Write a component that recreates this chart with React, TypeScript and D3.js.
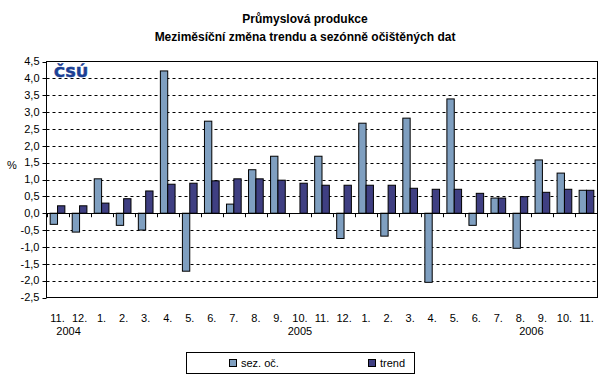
import React from "react";
import * as d3 from "d3";

const months = ["11.", "12.", "1.", "2.", "3.", "4.", "5.", "6.", "7.", "8.", "9.", "10.", "11.", "12.", "1.", "2.", "3.", "4.", "5.", "6.", "7.", "8.", "9.", "10.", "11."];
const sezOc = [-0.33, -0.56, 1.02, -0.36, -0.5, 4.22, -1.72, 2.73, 0.27, 1.29, 1.69, 0, 1.69, -0.75, 2.67, -0.68, 2.82, -2.05, 3.39, -0.36, 0.45, -1.04, 1.58, 1.19, 0.68];
const trend = [0.22, 0.22, 0.3, 0.43, 0.66, 0.86, 0.89, 0.96, 1.02, 1.02, 0.98, 0.89, 0.83, 0.83, 0.83, 0.83, 0.74, 0.71, 0.71, 0.59, 0.45, 0.49, 0.62, 0.71, 0.68];
const yearLabels = ["2004", "2005", "2006"];
const yearAnchors = [1, 11.5, 22];
const yTicks = [-2.5, -2, -1.5, -1, -0.5, 0, 0.5, 1, 1.5, 2, 2.5, 3, 3.5, 4, 4.5];
const seriesNames = ["sez. oč.", "trend"];
const seriesColors = ["#7f9fc0", "#3f3f82"];

export default function App() {
  const W = 609, H = 384;
  const L = 46.5, R = 597.5, T = 61.5, B = 297.5;
  const font = "Arial, 'Liberation Sans', sans-serif";
  const idx = months.map((_, i) => String(i));
  const x = d3.scaleBand<string>().domain(idx).range([L, R]).paddingInner(0).paddingOuter(0);
  const inner = d3.scaleBand<string>().domain(["0", "1"]).range([0, x.step()]).paddingInner(0).paddingOuter(0.5);
  const y = d3.scaleLinear().domain([-2.5, 4.5]).range([B, T]);
  const fmt = (v: number) => d3.format(".1f")(v).replace(".", ",").replace("−", "-");
  const series = [sezOc, trend];
  const y0 = y(0);

  return (
    <svg width={W} height={H} style={{ position: "absolute", left: 0, top: 0, background: "#fff" }} fontFamily={font}>
      <rect x={0} y={0} width={W} height={H} fill="#fff" />
      <text x={305} y={23} textAnchor="middle" fontSize={12} fontWeight="bold">Průmyslová produkce</text>
      <text x={305} y={41} textAnchor="middle" fontSize={12} fontWeight="bold">Meziměsíční změna trendu a sezónně očištěných dat</text>

      {/* gridlines */}
      {yTicks.filter(t => t !== 0 && t !== 4.5 && t !== -2.5).map(t => (
        <line key={"g" + t} x1={L} x2={R} y1={Math.round(y(t)) + 0.5} y2={Math.round(y(t)) + 0.5} stroke="#000" strokeDasharray="3,3" />
      ))}
      <rect x={L} y={T} width={R - L} height={B - T} fill="none" stroke="#000" />

      {/* bars */}
      {series.map((s, si) => s.map((v, i) => {
        if (v === 0) return null;
        const bx = (x(String(i)) as number) + (inner(String(si)) as number);
        const top = Math.min(y(v), y0);
        const h = Math.abs(y(v) - y0);
        return <rect key={si + "-" + i} x={bx} y={top} width={inner.bandwidth()} height={h} fill={seriesColors[si]} stroke="#000" strokeWidth={1} />;
      }))}

      {/* x axis */}
      <line x1={L} x2={R} y1={Math.round(y0) + 0.5} y2={Math.round(y0) + 0.5} stroke="#000" />
      {idx.map((d, i) => (
        <line key={"xt" + i} x1={Math.round(x(d) as number) + 0.5} x2={Math.round(x(d) as number) + 0.5} y1={y0} y2={y0 + 4} stroke="#000" />
      ))}
      <line x1={R} x2={R} y1={y0} y2={y0 + 4} stroke="#000" />

      {/* y axis */}
      <line x1={L} x2={L} y1={T} y2={B} stroke="#000" />
      {yTicks.map(t => (
        <g key={"yt" + t}>
          <line x1={L - 4} x2={L} y1={Math.round(y(t)) + 0.5} y2={Math.round(y(t)) + 0.5} stroke="#000" />
          <text x={L - 7} y={y(t)} dy="0.35em" textAnchor="end" fontSize={11}>{fmt(t)}</text>
        </g>
      ))}
      <text x={12} y={165} dy="0.35em" textAnchor="middle" fontSize={11}>%</text>

      {/* category labels */}
      {months.map((m, i) => (
        <text key={"xl" + i} x={(x(String(i)) as number) + x.step() / 2} y={318} dy="0.35em" textAnchor="middle" fontSize={11}>{m}</text>
      ))}
      {yearLabels.map((yl, i) => (
        <text key={"yl" + i} x={L + x.step() * yearAnchors[i]} y={331} dy="0.35em" textAnchor="middle" fontSize={11}>{yl}</text>
      ))}

      {/* logo */}
      <text x={54} y={77} fontSize={14} fontWeight="bold" fill="#1c3f94" stroke="#1c3f94" strokeWidth={0.6} fontFamily="'DejaVu Sans', sans-serif" textLength={34} lengthAdjust="spacingAndGlyphs">ČSÚ</text>

      {/* legend */}
      <rect x={186.5} y={352.5} width={228} height={21} fill="#fff" stroke="#000" />
      {seriesNames.map((n, i) => (
        <g key={"lg" + i}>
          <rect x={[229.5, 368.5][i]} y={359.5} width={7} height={7} fill={seriesColors[i]} stroke="#000" />
          <text x={[241, 380][i]} y={363} dy="0.35em" fontSize={11}>{n}</text>
        </g>
      ))}
    </svg>
  );
}
